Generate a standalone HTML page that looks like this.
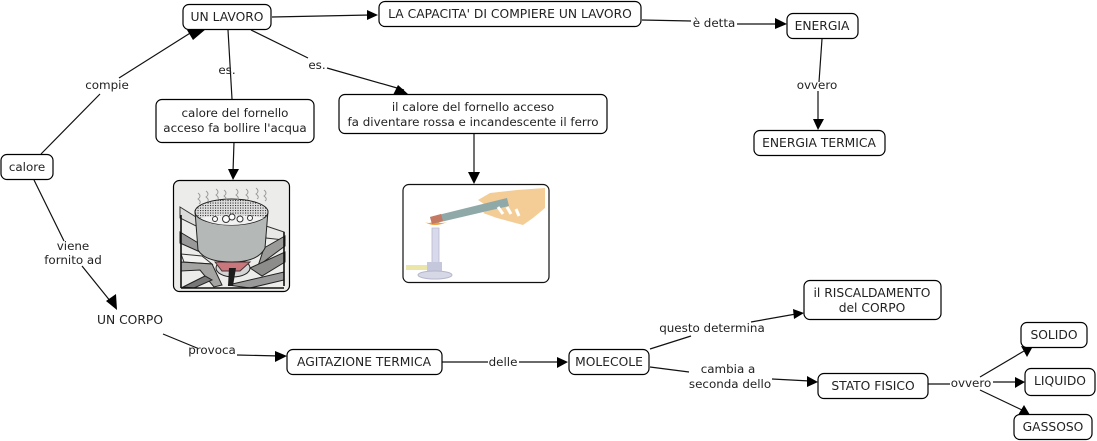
<!DOCTYPE html>
<html><head><meta charset="utf-8"><style>
html,body{margin:0;padding:0;background:#fff}
svg{display:block}
text{font-family:"DejaVu Sans","Liberation Sans",sans-serif;font-size:12.3px;fill:#222;text-anchor:middle}
text.s{font-size:11.9px}
.b{fill:#fff;stroke:#000;stroke-width:1.2}
.l{stroke:#111;stroke-width:1.2;fill:none}
.a{fill:#000;stroke:none}
</style></head><body>
<svg width="1097" height="441" viewBox="0 0 1097 441" xmlns="http://www.w3.org/2000/svg">
<defs>
<pattern id="dots" width="2.500" height="2.500" patternUnits="userSpaceOnUse"><rect width="2.500" height="2.500" fill="#dedede"/><rect width="1.100" height="1.100" fill="#333"/></pattern>
</defs>
<!-- connectors -->
<path class="l" d="M41 154L100 94M119 78L195 30M228 30L232 99M251 30L308 58M327 68L404 90M272 17L370 15M234 142L233 172M474 133L474 176M642 20L691 21M737 24L778 24M822 39L819 82M818 91L818 122M34 180L64 241M82 266L111 302M163 334L197 348M237 355L280 356M442 362L488 362M519 362L560 362M650 349L691 336M751 322L796 314M650 367L689 372M772 379L810 381M928 384L950 384M993 382L1022 382M980 377L1024 351M980 390L1022 410"/>
<!-- arrowheads -->
<path class="a" d="M206 29L193 40L187 30ZM378 15L367 10L367 20ZM233 180L228 169L239 169ZM408 94L398 85L393 95ZM474 184L468 172L480 172ZM787 24L775 18L775 29ZM818 130L813 119L824 119ZM117 310L106 301L116 294ZM287 356L275 351L275 362ZM568 362L557 357L557 368ZM804 313L793 309L794 319ZM818 382L807 376L807 387ZM1032 348L1021 346L1027 357ZM1025 382L1015 377L1015 388ZM1030 415L1024 405L1018 415Z"/>
<!-- nodes -->
<rect class="b" x="1" y="154.500" width="52" height="25" rx="6"/>
<rect class="b" x="183" y="4.500" width="88" height="25" rx="6"/>
<rect class="b" x="379" y="1.500" width="262" height="25" rx="6"/>
<rect class="b" x="787" y="13.500" width="71" height="25" rx="6"/>
<rect class="b" x="754" y="130.500" width="131" height="25" rx="6"/>
<rect class="b" x="156" y="99.500" width="158" height="43" rx="6"/>
<rect class="b" x="339" y="94.500" width="268" height="39" rx="6"/>
<rect class="b" x="287" y="349.500" width="155" height="25" rx="6"/>
<rect class="b" x="569" y="349.500" width="80" height="25" rx="6"/>
<rect class="b" x="804" y="280.500" width="137" height="39" rx="6"/>
<rect class="b" x="818" y="373.500" width="110" height="25" rx="6"/>
<rect class="b" x="1021" y="322.500" width="66" height="25" rx="6"/>
<rect class="b" x="1025" y="368.500" width="70" height="27" rx="6"/>
<rect class="b" x="1014" y="414.500" width="78" height="25" rx="6"/>
<!-- pot image -->
<rect x="173.500" y="180.500" width="116" height="111" rx="6" fill="#ececea" stroke="#000" stroke-width="1.200"/>
<g>
<path d="M180 207L196 217L196 226L180 218Z" fill="#dcdcda" stroke="#333"/>
<path d="M266 226L284 232L284 240L266 238Z" fill="#e8e8e6" stroke="#333"/>
<path d="M180 232L200 244L200 252L180 243Z" fill="#999" stroke="#222"/>
<path d="M181 254L202 256L212 264L184 262Z" fill="#f2f2f0" stroke="#333"/>
<path d="M181 262L212 264L222 285L214 287L200 270L181 271Z" fill="#a4a4a2" stroke="#222"/>
<path d="M264 248L285 236L285 246L258 266Z" fill="#9a9a98" stroke="#222"/>
<path d="M250 268L285 252L285 262L262 276Z" fill="#8c8c8a" stroke="#222"/>
<path d="M228 285L284 272L284 280L250 288Z" fill="#999" stroke="#222"/>
<path d="M183 287L205 276L212 280L194 288Z" fill="#777" stroke="#222"/>
<path d="M181 215L181 288M284 232L284 286M181 288L284 288" stroke="#111" stroke-width="1.600" fill="none"/>
<ellipse cx="233" cy="268" rx="17" ry="9" fill="#d4d4d4" stroke="#222"/>
<path d="M215 262L222 271L240 271L250 262Z" fill="#c9767c" stroke="#433"/>
<path d="M229 268L236 268L233 286L228 286Z" fill="#1c1c1c"/>
<path d="M195 211L198 250Q205 262 232 262Q258 262 265 248L268 211Z" fill="#b4b9b8" stroke="#222"/>
<ellipse cx="231.500" cy="212" rx="36.500" ry="13" fill="url(#dots)" stroke="#222"/>
<path d="M200 218Q232 212 264 218Q250 225 232 225Q212 225 200 218Z" fill="#f2f2f2"/>
<path d="M198 193q4 3 0 6q4 3 1 5M206 191q4 3 0 6q4 3 1 5M216 189q4 3 0 6q4 3 1 5M224 190q4 3 0 6q4 3 1 5M236 189q4 3 0 6q4 3 1 5M246 189q4 3 0 6q4 3 1 5M256 188q4 3 0 6q4 3 1 5M264 190q4 3 0 6q4 3 1 5" stroke="#999" fill="none" stroke-width="0.900"/>
<circle cx="226" cy="219" r="3.500" fill="#fff" stroke="#333"/><circle cx="232" cy="217" r="3" fill="#fff" stroke="#333"/><circle cx="240" cy="219" r="3" fill="#fff" stroke="#333"/><circle cx="215" cy="219" r="2.500" fill="#fff" stroke="#333"/><circle cx="250" cy="218" r="2.500" fill="#fff" stroke="#333"/>
</g>
<!-- burner image -->
<rect x="403" y="184.500" width="146" height="98" rx="6" fill="#fff" stroke="#111" stroke-width="1.200"/>
<rect x="406" y="265" width="22" height="5" fill="#ebe5a8"/>
<path d="M432 263L439 263L439 228L432 228Z" fill="#d8d9ea" stroke="#b8b9d0" stroke-width="0.800"/>
<rect x="427" y="262" width="15" height="11" fill="#c5c7dc"/>
<ellipse cx="435" cy="275" rx="17" ry="4" fill="#d6d8e6" stroke="#b5b6cc"/>
<path d="M425 222Q434 228 447 222Q438 225 435 219Q431 225 425 222Z" fill="#f0a040"/>
<path d="M478 200L490 193L517 190L545 188L545 208L533 218L523 225L497 218L483 213L490 208Z" fill="#f4cd96"/>
<path d="M430 217L507 198L509 206L432 224Z" fill="#8fa8a8"/>
<path d="M430 217L441 214L443 221L432 224Z" fill="#c47a62"/>
<path d="M498 207L503 214M507 207L511 214M516 209L519 216" stroke="#fff" stroke-width="3" fill="none"/>
<!-- labels -->
<text class="s" x="27" y="171">calore</text>
<text x="227" y="21">UN LAVORO</text>
<text x="510" y="18">LA CAPACITA' DI COMPIERE UN LAVORO</text>
<text x="822" y="30">ENERGIA</text>
<text x="819" y="147">ENERGIA TERMICA</text>
<text class="s" x="235" y="117">calore del fornello</text>
<text class="s" x="235" y="132">acceso fa bollire l'acqua</text>
<text class="s" x="473" y="111">il calore del fornello acceso</text>
<text class="s" x="473" y="126">fa diventare rossa e incandescente il ferro</text>
<text x="130" y="324">UN CORPO</text>
<text x="364" y="366">AGITAZIONE TERMICA</text>
<text x="609" y="366">MOLECOLE</text>
<text x="872" y="297">il RISCALDAMENTO</text>
<text x="872" y="312">del CORPO</text>
<text x="873" y="390">STATO FISICO</text>
<text x="1054" y="339">SOLIDO</text>
<text x="1060" y="385">LIQUIDO</text>
<text x="1053" y="431">GASSOSO</text>
<text class="s" x="107" y="89">compie</text>
<text class="s" x="227" y="74">es.</text>
<text class="s" x="317" y="69">es.</text>
<text class="s" x="714" y="27">è detta</text>
<text class="s" x="817" y="89">ovvero</text>
<text class="s" x="73" y="250">viene</text>
<text class="s" x="73" y="264">fornito ad</text>
<text class="s" x="212" y="354">provoca</text>
<text class="s" x="503" y="366">delle</text>
<text class="s" x="712" y="332">questo determina</text>
<text class="s" x="728" y="373">cambia a</text>
<text class="s" x="730" y="388">seconda dello</text>
<text class="s" x="971" y="387">ovvero</text>
</svg>
</body></html>
